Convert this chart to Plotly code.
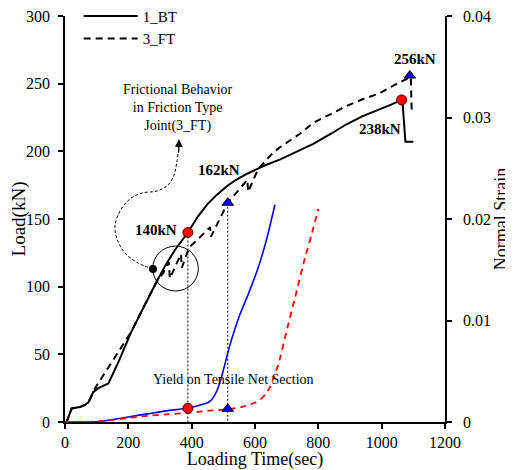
import plotly.graph_objects as go

# ---- Load curves (left axis, kN) ----
bt_time = [0, 5, 21, 47, 63, 74, 89, 105, 137, 170, 210, 242, 258, 290, 320, 350, 388, 420, 450, 480, 510, 540,
           580, 630, 680, 742, 784, 840, 889, 940, 995, 1030, 1063, 1066, 1075, 1100]
bt_load = [0, 0, 10, 11, 12.6, 14.5, 22, 25, 28.5, 45, 67, 82, 89, 104, 117, 128, 140, 152, 161, 168, 174, 179,
           184, 189.5, 194, 201, 205.5, 213, 220, 226, 231, 234.5, 238, 236, 207, 207]

ft_time = [0, 5, 21, 47, 63, 74, 89, 95, 150, 210, 242, 258, 290, 310, 328, 331, 366, 369, 392, 437, 458, 461,
           514, 576, 578, 610, 657, 679, 742, 784, 840, 889, 940, 995, 1040, 1089, 1092, 1095]
ft_load = [0, 0, 10, 11, 12.6, 14.5, 22, 25, 45, 67, 82, 89, 104, 110, 118, 106, 124, 114, 129, 139, 144, 137,
           162, 179, 170, 187, 199, 203, 213, 221, 228, 233.5, 238.5, 243, 249, 255, 255, 228]

# ---- Strain curves (right axis) ----
bt_strain_time = [0, 60, 110, 142, 200, 260, 320, 387, 430, 450, 460, 470, 480, 490, 500, 510, 521, 550, 580,
                  610, 635, 663]
bt_strain = [0, 0, 0.00005, 0.0002, 0.0005, 0.0008, 0.0011, 0.00135, 0.0017, 0.0019, 0.0021, 0.0025, 0.0031,
             0.0040, 0.0051, 0.0063, 0.0076, 0.0104, 0.0127, 0.0152, 0.0178, 0.0214]

ft_strain_time = [0, 60, 100, 150, 200, 260, 320, 387, 450, 516, 560, 600, 616, 635, 647, 660, 674, 700, 726,
                  758, 780, 800]
ft_strain = [0, 0, 0.00005, 0.0002, 0.0004, 0.0006, 0.00075, 0.0009, 0.0011, 0.00125, 0.0015, 0.0019, 0.0022,
             0.0028, 0.0034, 0.0045, 0.0057, 0.009, 0.0122, 0.0162, 0.0186, 0.021]

# ---- Key points ----
bt_yield_time, bt_yield_load, bt_yield_strain = 388, 140, 0.00135
ft_yield_time, ft_yield_load, ft_yield_strain = 514, 162, 0.0013
bt_max_time, bt_max_load = 1063, 238
ft_max_time, ft_max_load = 1089, 256

# ---- Annotation guide path (curly dotted arrow) ----
guide_time = [278, 230.5, 189.5, 164.2, 157.9, 173.7, 205.2, 243.1, 290.5, 325.2, 344.2, 353.7, 360]
guide_load = [113, 117.5, 124.9, 135.2, 144.8, 155.9, 164.8, 169.2, 170.7, 175.1, 182.5, 192.9, 204]

FONT = "Liberation Serif"
RED = "#FF0000"
BLUE = "#0000FF"

fig = go.Figure()

# vertical dotted guides
fig.add_trace(go.Scatter(x=[bt_yield_time, bt_yield_time], y=[bt_yield_load, 0], mode="lines",
                         line=dict(color="black", width=1, dash="2px,2px"), showlegend=False, hoverinfo="skip"))
fig.add_trace(go.Scatter(x=[ft_yield_time, ft_yield_time], y=[ft_yield_load, 0], mode="lines",
                         line=dict(color="black", width=1, dash="2px,2px"), showlegend=False, hoverinfo="skip"))

# load curves
fig.add_trace(go.Scatter(x=bt_time, y=bt_load, mode="lines", name="1_BT",
                         line=dict(color="black", width=2)))
fig.add_trace(go.Scatter(x=ft_time, y=ft_load, mode="lines", name="3_FT",
                         line=dict(color="black", width=2, dash="7px,5px")))

# strain curves
fig.add_trace(go.Scatter(x=bt_strain_time, y=bt_strain, mode="lines", yaxis="y2", showlegend=False,
                         line=dict(color=BLUE, width=1.6, shape="spline", smoothing=0.6)))
fig.add_trace(go.Scatter(x=ft_strain_time, y=ft_strain, mode="lines", yaxis="y2", showlegend=False,
                         line=dict(color=RED, width=1.8, dash="6px,5px", shape="spline", smoothing=0.6)))

# guide curve
fig.add_trace(go.Scatter(x=guide_time, y=guide_load, mode="lines", showlegend=False, hoverinfo="skip",
                         line=dict(color="black", width=1, dash="3px,2px", shape="spline")))
fig.add_trace(go.Scatter(x=[guide_time[0]], y=[guide_load[0]], mode="markers", showlegend=False,
                         marker=dict(color="black", size=8)))

# markers
fig.add_trace(go.Scatter(x=[bt_yield_time, bt_max_time], y=[bt_yield_load, bt_max_load], mode="markers",
                         showlegend=False, marker=dict(color=RED, size=10, line=dict(color="#400000", width=1))))
fig.add_trace(go.Scatter(x=[ft_yield_time, ft_max_time], y=[ft_yield_load, ft_max_load], mode="markers",
                         showlegend=False,
                         marker=dict(color=BLUE, size=10, symbol="triangle-up", line=dict(color="black", width=1))))
fig.add_trace(go.Scatter(x=[bt_yield_time], y=[bt_yield_strain], mode="markers", yaxis="y2", showlegend=False,
                         marker=dict(color=RED, size=10, line=dict(color="#400000", width=1))))
fig.add_trace(go.Scatter(x=[ft_yield_time], y=[ft_yield_strain], mode="markers", yaxis="y2", showlegend=False,
                         marker=dict(color=BLUE, size=10, symbol="triangle-up", line=dict(color="black", width=1))))

# circle highlighting frictional slip
fig.add_shape(type="circle", xref="x", yref="y", x0=277, x1=421, y0=96.8, y1=130,
              line=dict(color="black", width=1))

ann_bold = dict(family=FONT, size=15, color="black")
ann_reg = dict(family=FONT, size=14, color="black")
fig.add_annotation(x=360, y=142, text="<b>140kN</b>", showarrow=False, xanchor="right", font=ann_bold)
fig.add_annotation(x=486, y=186, text="<b>162kN</b>", showarrow=False, font=ann_bold)
fig.add_annotation(x=1067, y=216.7, text="<b>238kN</b>", showarrow=False, xanchor="right", font=ann_bold)
fig.add_annotation(x=1105, y=268, text="<b>256kN</b>", showarrow=False, font=ann_bold)
fig.add_annotation(x=357, y=232, text="Frictional Behavior<br>in Friction Type<br>Joint(3_FT)",
                   showarrow=False, font=ann_reg)
fig.add_annotation(x=531, y=31.5, text="Yield on Tensile Net Section", showarrow=False, font=ann_reg)
# arrow head of the guide
fig.add_annotation(x=360, y=209, ax=359, ay=198, xref="x", yref="y", axref="x", ayref="y", text="",
                   showarrow=True, arrowhead=2, arrowsize=1.3, arrowwidth=1.2, arrowcolor="black")

axis_common = dict(showgrid=False, zeroline=False, showline=True, linecolor="black", linewidth=1.5,
                   ticks="outside", ticklen=5, tickwidth=1.5, tickcolor="black",
                   ticklabeloverflow="allow",
                   tickfont=dict(family=FONT, size=16, color="black"))

fig.update_layout(
    width=505, height=462,
    margin=dict(l=57, r=68, t=8, b=48, autoexpand=False),
    plot_bgcolor="white", paper_bgcolor="white",
    font=dict(family=FONT, color="black"),
    xaxis=dict(range=[0, 1200], tickvals=[0, 200, 400, 600, 800, 1000, 1200], automargin=True,
               title=dict(text="Loading Time(sec)", font=dict(family=FONT, size=18), standoff=3), **axis_common),
    yaxis=dict(range=[0, 300], tickvals=[0, 50, 100, 150, 200, 250, 300], ticklabelstandoff=5, automargin=False,
               title=dict(text="Load(kN)", font=dict(family=FONT, size=19), standoff=0), **axis_common),
    yaxis2=dict(range=[0, 0.04], tickvals=[0, 0.01, 0.02, 0.03, 0.04], overlaying="y", side="right",
                anchor="x", ticklabelstandoff=8, automargin=False,
                title=dict(text="Normal Strain", font=dict(family=FONT, size=18), standoff=4),
                **axis_common),
    legend=dict(x=0.036, y=1.04, xanchor="left", yanchor="top", bgcolor="rgba(0,0,0,0)",
                font=dict(family=FONT, size=15), itemwidth=54, tracegroupgap=0),
    showlegend=True,
)

fig.write_html("out.html")
